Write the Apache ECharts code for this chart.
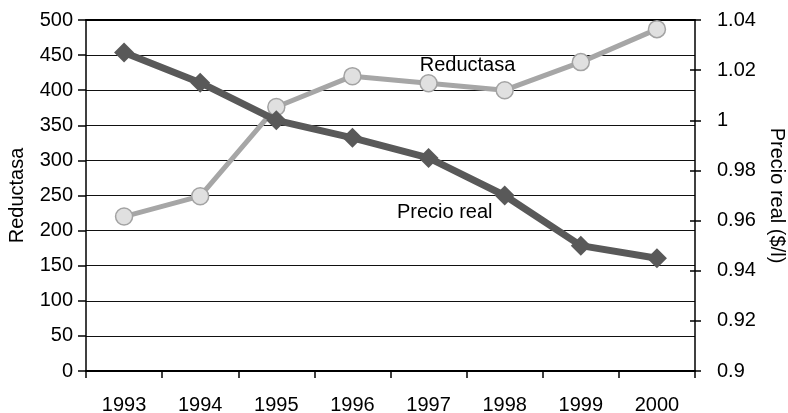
<!DOCTYPE html>
<html>
<head>
<meta charset="utf-8">
<script src="https://cdn.jsdelivr.net/npm/echarts@6/dist/echarts.min.js"></script>
<style>
  html, body { margin: 0; padding: 0; background: #fff; }
  #chart { width: 788px; height: 413px; }
</style>
</head>
<body>
<div id="chart"></div>
<script>
const years = ['1993', '1994', '1995', '1996', '1997', '1998', '1999', '2000'];
const reductasa = [220, 249, 376, 420, 410, 400, 440, 487];
const precioReal = [1.027, 1.015, 1.0, 0.993, 0.985, 0.970, 0.950, 0.945];

const font = 'Liberation Sans, Arial, sans-serif';
const fs = 20;

const chart = echarts.init(document.getElementById('chart'));
chart.setOption({
  animation: false,
  grid: { left: 86, right: 93, top: 20, bottom: 42, outerBoundsMode: 'none' },
  xAxis: [
    {
      type: 'category',
      data: years,
      boundaryGap: true,
      axisLine: { lineStyle: { color: '#000', width: 2 } },
      axisTick: { show: true, length: 7, lineStyle: { color: '#000', width: 1.5 } },
      axisLabel: { color: '#000', fontSize: fs, fontFamily: font, margin: 24 },
    },
    {
      // heavier frame line along the top
      type: 'category',
      data: years,
      position: 'top',
      axisLine: { lineStyle: { color: '#000', width: 2 } },
      axisTick: { show: false },
      axisLabel: { show: false },
    },
  ],
  yAxis: [
    {
      type: 'value',
      min: 0,
      max: 500,
      interval: 50,
      name: 'Reductasa',
      nameLocation: 'middle',
      nameGap: 59,
      nameTextStyle: { color: '#000', fontSize: fs, fontFamily: font },
      axisLine: { show: true, lineStyle: { color: '#000', width: 1.5 } },
      axisTick: { show: true, length: 8, lineStyle: { color: '#000', width: 1.5 } },
      axisLabel: { color: '#000', fontSize: fs, fontFamily: font, margin: 13 },
      splitLine: { show: true, lineStyle: { color: '#111', width: 1.2 } },
    },
    {
      type: 'value',
      position: 'right',
      min: 0.9,
      max: 1.04,
      interval: 0.02,
      name: 'Precio real ($/l)',
      nameLocation: 'middle',
      nameRotate: -90,
      nameGap: 72,
      nameTextStyle: { color: '#000', fontSize: fs, fontFamily: font },
      axisLine: { show: true, lineStyle: { color: '#000', width: 1.5 } },
      axisTick: { show: true, length: 6, lineStyle: { color: '#000', width: 1.5 } },
      axisLabel: { color: '#000', fontSize: fs, fontFamily: font, margin: 22 },
      splitLine: { show: false },
    },
    {
      // inner half of the right-axis ticks
      type: 'value',
      position: 'right',
      min: 0.9,
      max: 1.04,
      interval: 0.02,
      axisLine: { show: false },
      axisTick: { show: true, inside: true, length: 5, lineStyle: { color: '#000', width: 1.5 } },
      axisLabel: { show: false },
      splitLine: { show: false },
    },
  ],
  series: [
    {
      name: 'Reductasa',
      type: 'line',
      yAxisIndex: 0,
      data: reductasa.map((v, i) => i === 4 ? {
        value: v,
        label: {
          show: true, formatter: 'Reductasa', position: 'inside', offset: [39, -18],
          color: '#000', fontSize: fs, fontFamily: font,
        },
      } : v),
      symbol: 'circle',
      symbolSize: 17,
      lineStyle: { color: '#a6a6a6', width: 5 },
      itemStyle: { color: '#e0e0e0', borderColor: '#a3a3a3', borderWidth: 1.5 },
      z: 2,
    },
    {
      name: 'Precio real',
      type: 'line',
      yAxisIndex: 1,
      data: precioReal.map((v, i) => i === 5 ? {
        value: v,
        label: {
          show: true, formatter: 'Precio real', position: 'inside', offset: [-60, 17],
          color: '#000', fontSize: fs, fontFamily: font,
        },
      } : v),
      symbol: 'diamond',
      symbolSize: 20,
      lineStyle: { color: '#595959', width: 7 },
      itemStyle: { color: '#595959' },
      z: 3,
    },
  ],
});
</script>
</body>
</html>
